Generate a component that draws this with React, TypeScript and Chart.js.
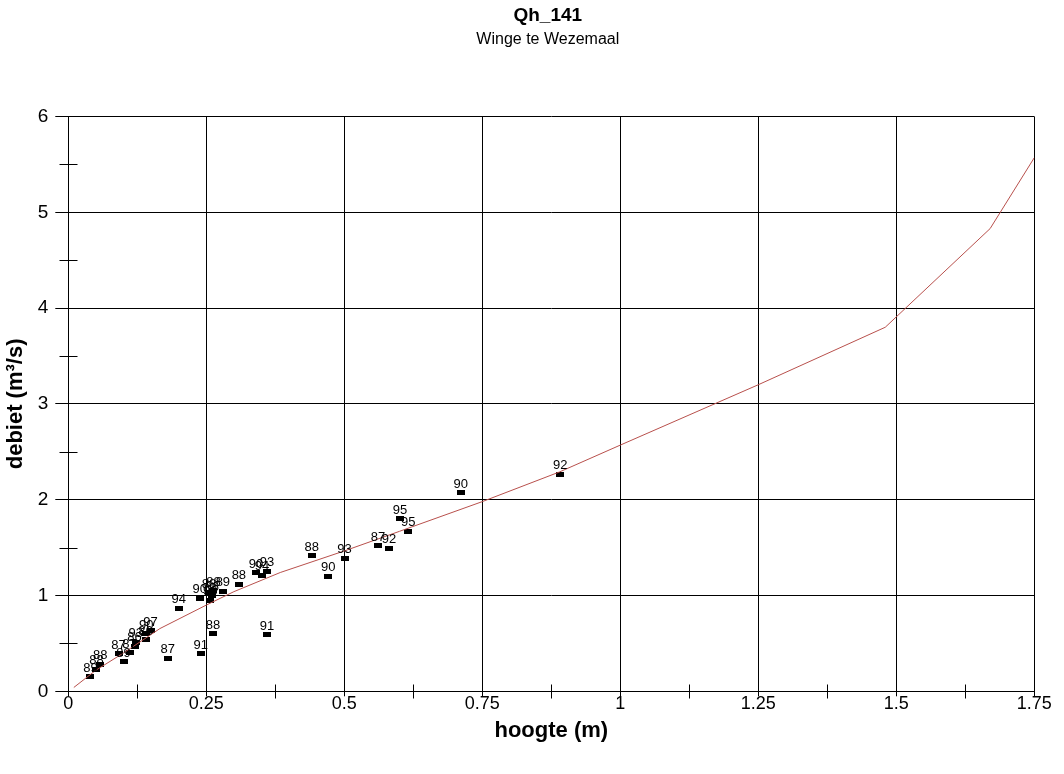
import React, { useEffect, useRef } from 'react';
import { Chart, registerables } from 'chart.js';

Chart.register(...registerables);

// Observed gaugings: height (m), discharge (m³/s), year label
const obsHeight = [0.040, 0.051, 0.058, 0.091, 0.100, 0.111, 0.120, 0.122, 0.140, 0.141, 0.149, 0.180, 0.200, 0.240, 0.238, 0.262, 0.255, 0.260, 0.257, 0.263, 0.280, 0.309, 0.340, 0.351, 0.360, 0.360, 0.441, 0.471, 0.5005, 0.561, 0.581, 0.601, 0.616, 0.711, 0.891];
const obsFlow = [0.15, 0.23, 0.28, 0.39, 0.31, 0.40, 0.47, 0.51, 0.54, 0.60, 0.63, 0.345, 0.865, 0.39, 0.97, 0.60, 1.03, 1.00, 0.95, 1.05, 1.045, 1.115, 1.24, 1.21, 1.255, 0.59, 1.414, 1.20, 1.39, 1.52, 1.495, 1.80, 1.672, 2.07, 2.265];
const obsYear = ['89', '88', '88', '87', '89', '87', '86', '93', '86', '90', '97', '87', '94', '91', '90', '88', '88', '86', '96', '88', '89', '88', '90', '94', '93', '91', '88', '90', '93', '87', '92', '95', '95', '90', '92'];

// Rating curve (Q-h relation)
const curveHeight = [0.01, 0.05, 0.1, 0.166, 0.25, 0.3, 0.384, 0.5, 0.6, 0.75, 0.89, 1.0, 1.25, 1.48, 1.67, 1.75];
const curveFlow = [0.04, 0.22, 0.40, 0.655, 0.90, 1.04, 1.24, 1.465, 1.67, 1.98, 2.29, 2.57, 3.20, 3.80, 4.83, 5.57];

const xTicks = [0, 0.25, 0.5, 0.75, 1, 1.25, 1.5, 1.75];
const xTickLabels = ['0', '0.25', '0.5', '0.75', '1', '1.25', '1.5', '1.75'];
const xMinorTicks = [0.125, 0.375, 0.625, 0.875, 1.125, 1.375, 1.625];
const yTicks = [0, 1, 2, 3, 4, 5, 6];
const yTickLabels = ['0', '1', '2', '3', '4', '5', '6'];
const yMinorTicks = [0.5, 1.5, 2.5, 3.5, 4.5, 5.5];

const FONT = '"Liberation Sans", Arial, Helvetica, sans-serif';

export default function App() {
  const ref = useRef<HTMLCanvasElement>(null);

  useEffect(() => {
    if (!ref.current) return;
    const marker = document.createElement('canvas');
    marker.width = 8;
    marker.height = 5;
    const mctx = marker.getContext('2d')!;
    mctx.fillStyle = '#000';
    mctx.fillRect(0, 0, 8, 5);

    const labelPlugin = {
      id: 'yearLabels',
      afterDatasetsDraw(chart: any) {
        const { ctx, scales } = chart;
        const x = scales.x;
        const y = scales.y;
        ctx.save();
        ctx.font = '13px ' + FONT;
        ctx.fillStyle = '#000';
        ctx.textAlign = 'center';
        ctx.textBaseline = 'alphabetic';
        obsHeight.forEach((h, i) => {
          ctx.fillText(obsYear[i], x.getPixelForValue(h), y.getPixelForValue(obsFlow[i]) - 5);
        });
        ctx.restore();
      },
    };

    const minorTickPlugin = {
      id: 'minorTicks',
      afterLayout(chart: any) {
        // nudge the centred title block slightly left, as in the original
        chart.boxes.forEach((b: any) => {
          if (b && b.options && typeof b.options.text === 'string' && b.position === 'top') {
            b.left -= 7;
          }
        });
      },
      afterDraw(chart: any) {
        const { ctx, scales } = chart;
        const x = scales.x;
        const y = scales.y;
        const x0 = Math.round(x.getPixelForValue(0)) + 0.5;
        const y0 = Math.round(y.getPixelForValue(0)) + 0.5;
        ctx.save();
        ctx.strokeStyle = '#000';
        ctx.lineWidth = 1;
        ctx.beginPath();
        xMinorTicks.forEach((v) => {
          const px = Math.round(x.getPixelForValue(v)) + 0.5;
          ctx.moveTo(px, y0 - 7);
          ctx.lineTo(px, y0 + 7);
        });
        yMinorTicks.forEach((v) => {
          const py = Math.round(y.getPixelForValue(v)) + 0.5;
          ctx.moveTo(x0 - 9, py);
          ctx.lineTo(x0 + 9, py);
        });
        ctx.stroke();
        ctx.restore();
      },
    };

    const chart = new Chart(ref.current, {
      type: 'scatter',
      data: {
        datasets: [
          {
            label: 'Qh-relatie',
            data: curveHeight.map((h, i) => ({ x: h, y: curveFlow[i] })),
            showLine: true,
            borderColor: '#b8504c',
            borderWidth: 1,
            pointRadius: 0,
            fill: false,
            tension: 0,
          },
          {
            label: 'Metingen',
            data: obsHeight.map((h, i) => ({ x: h, y: obsFlow[i] })),
            pointStyle: marker as any,
            pointRadius: 4,
            backgroundColor: '#000',
            borderColor: '#000',
          },
        ],
      },
      options: {
        responsive: false,
        animation: false,
        events: [],
        layout: { padding: { left: 0, right: 29.7, top: 0, bottom: 0 } },
        plugins: {
          legend: { display: false },
          tooltip: { enabled: false },
          title: {
            display: true,
            text: 'Qh_141',
            color: '#000',
            fullSize: false,
            font: { family: FONT, size: 19, weight: 'bold' },
            padding: { top: 4, bottom: 3 },
          },
          subtitle: {
            display: true,
            text: 'Winge te Wezemaal',
            color: '#000',
            fullSize: false,
            font: { family: FONT, size: 16 },
            padding: { top: 0, bottom: 67.5 },
          },
        },
        scales: {
          x: {
            type: 'linear',
            min: 0,
            max: 1.75,
            afterBuildTicks: (s: any) => {
              s.ticks = xTicks.map((v) => ({ value: v }));
            },
            afterFit: (s: any) => {
              s.height = 82.7;
            },
            ticks: {
              color: '#000',
              font: { family: FONT, size: 18 },
              padding: -3,
              maxRotation: 0,
              autoSkip: false,
              callback: (_v: any, i: number) => xTickLabels[i],
            },
            grid: { color: '#000', tickColor: '#000', tickLength: 5, lineWidth: 1 },
            border: { color: '#000' },
            title: {
              display: true,
              text: 'hoogte (m)',
              color: '#000',
              font: { family: FONT, size: 22, weight: 'bold' },
              padding: { top: 0, bottom: 29.5 },
            },
          },
          y: {
            type: 'linear',
            min: 0,
            max: 6,
            afterBuildTicks: (s: any) => {
              s.ticks = yTicks.map((v) => ({ value: v }));
            },
            afterFit: (s: any) => {
              s.width = 68.3;
            },
            ticks: {
              color: '#000',
              font: { family: FONT, size: 19 },
              padding: 7,
              autoSkip: false,
              callback: (_v: any, i: number) => yTickLabels[i],
            },
            grid: { color: '#000', tickColor: '#000', tickLength: 13, lineWidth: 1 },
            border: { color: '#000' },
            title: {
              display: true,
              text: 'debiet (m³/s)',
              color: '#000',
              font: { family: FONT, size: 22, weight: 'bold' },
              padding: { top: 3, bottom: 0 },
            },
          },
        },
      },
      plugins: [labelPlugin, minorTickPlugin],
    } as any);

    return () => chart.destroy();
  }, []);

  return (
    <canvas
      ref={ref}
      width={1064}
      height={774}
      style={{ position: 'absolute', left: 0, top: 0, width: 1064, height: 774, background: '#fff' }}
    />
  );
}
